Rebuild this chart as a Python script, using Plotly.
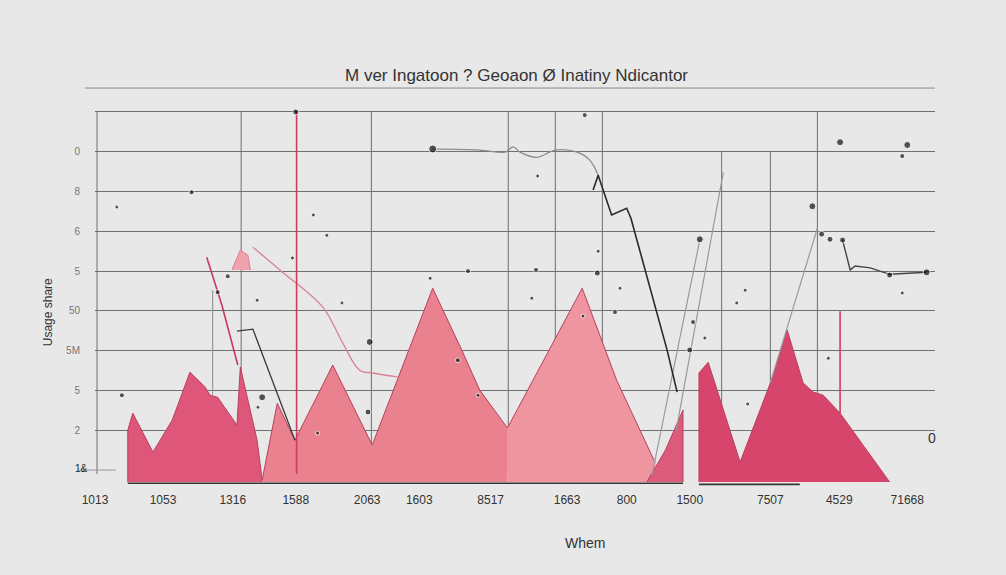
import plotly.graph_objects as go

# ---------------- data ----------------
title_text = "M ver Ingatoon ? Geoaon Ø Inatiny Ndicantor"
x_title = "Whem"
y_title = "Usage share"

x_tick_vals = [0, 8.1, 16.4, 23.9, 32.4, 38.6, 47.1, 56.2, 63.3, 70.8, 80.4, 88.6, 96.7]
x_tick_text = ["1013", "1053", "1316", "1588", "2063", "1603", "8517",
               "1663", "800", "1500", "7507", "4529", "71668"]

y_tick_vals = [1, 2, 3, 4, 5, 6, 7, 8, 9]
y_tick_text = ["2", "5", "5M", "50", "5", "6", "8", "0", ""]

# filled areas (closed polygons)
area1_x = [3.9, 3.9, 4.5, 6.9, 9.2, 11.3, 13.1, 13.7, 14.6, 16.9, 17.3, 19.3, 19.9, 19.9]
area1_y = [-0.3, 1.0, 1.43, 0.45, 1.26, 2.46, 2.09, 1.88, 1.83, 1.13, 2.59, 0.75, -0.25, -0.3]

area2a_x = [19.9, 19.9, 21.7, 23.8, 28.3, 33.0, 40.2, 43.5, 45.8, 49.1, 49.1]
area2a_y = [-0.3, -0.25, 1.68, 0.75, 2.64, 0.63, 4.57, 3.09, 2.01, 1.06, -0.3]

area2b_x = [49.1, 49.1, 58.0, 62.1, 66.7, 66.9]
area2b_y = [-0.3, 1.06, 4.57, 2.26, 0.18, -0.3]

area3_x = [65.7, 67.9, 70.0, 70.0]
area3_y = [-0.3, 0.5, 1.51, -0.3]

area4_x = [71.9, 71.9, 73.0, 76.8, 80.4, 82.4, 84.3, 85.5, 86.7, 88.7, 94.6]
area4_y = [-0.3, 2.44, 2.71, 0.2, 2.19, 3.52, 2.19, 1.96, 1.88, 1.43, -0.3]

area5_x = [16.3, 17.3, 18.2, 18.5]
area5_y = [5.03, 5.53, 5.4, 5.03]

# lines
black_line_x = [59.3, 59.9, 61.5, 63.3, 63.8, 68.1, 69.3]
black_line_y = [7.04, 7.41, 6.41, 6.58, 6.33, 3.02, 1.96]

grey_curve_x = [40.2, 45.8, 48.8, 49.8, 50.6, 52.6, 54.8, 57.4, 58.9, 59.9]
grey_curve_y = [8.07, 8.04, 7.99, 8.12, 7.99, 7.86, 8.04, 7.99, 7.79, 7.41]

right_line_x = [89.0, 89.9, 90.5, 92.3, 94.6, 99.0]
right_line_y = [5.78, 5.03, 5.13, 5.08, 4.92, 4.97]

pink_curve_x = [18.8, 22.0, 27.1, 29.5, 31.5, 33.1, 36.0]
pink_curve_y = [5.60, 5.03, 4.10, 3.19, 2.51, 2.44, 2.34]

crimson_x = [13.3, 15.1, 17.0]
crimson_y = [5.35, 4.15, 2.64]

dark_left_x = [16.9, 18.8, 23.8]
dark_left_y = [3.49, 3.54, 0.75]

grey_rise_x = [66.3, 72.0, None, 69.2, 74.8, None, 80.4, 86.0, None, 14.0, 14.0]
grey_rise_y = [-0.13, 5.78, None, 1.01, 7.49, None, 2.19, 6.08, None, 4.52, 1.88]

red_vert_x = [24.0, 24.0, None, 88.7, 88.7]
red_vert_y = [9.0, -0.1, None, 3.99, 1.43]

base_x = [3.9, 70.0, None, 71.9, 83.9]
base_y = [-0.33, -0.33, None, -0.36, -0.36]

dots_x = [88.7, 96.7, 96.1, 85.4, 72.0, 59.8, 52.5, 58.3, 52.7, 77.4, 62.5, 59.9,
          40.2, 11.5, 2.6, 26.0, 27.6, 3.2, 15.8, 14.6, 19.9, 19.4, 32.5, 32.7,
          26.5, 23.5, 19.3, 29.4, 44.4, 52.0, 43.2, 45.6, 61.9, 58.1, 39.9, 71.2,
          70.8, 72.6, 76.4, 77.7, 87.3, 96.1, 86.5, 87.5, 89.0, 94.6, 99.0, 23.9]
dots_y = [8.24, 8.17, 7.89, 6.63, 5.80, 4.95, 5.03, 8.92, 7.39, 4.52, 4.57, 5.50,
          8.07, 6.98, 6.61, 6.41, 5.90, 1.88, 4.87, 4.47, 1.83, 1.58, 1.46, 3.22,
          0.93, 5.33, 4.27, 4.20, 5.00, 4.32, 2.76, 1.88, 3.97, 3.87, 4.82, 3.72,
          3.02, 3.32, 4.20, 1.66, 2.81, 4.45, 5.93, 5.80, 5.78, 4.90, 4.97, 9.0]
dots_s = [7, 7, 5, 7, 7, 6, 5, 5, 4, 4, 4, 4,
          8, 5, 4, 4, 4, 5, 5, 5, 7, 4, 6, 7,
          4, 4, 4, 4, 5, 4, 5, 4, 5, 4, 4, 5,
          6, 4, 4, 4, 4, 4, 6, 6, 6, 6, 7, 6]

vgrid_full = [0.24, 17.4, 32.9, 49.2, 54.8, 60.4, 86.0]
vgrid_part = [74.6, 80.4]

# ---------------- figure ----------------
fig = go.Figure()

edge = dict(color="#b8405c", width=1)
nol = dict(width=0)
fig.add_trace(go.Scatter(x=area1_x, y=area1_y, fill="toself", fillcolor="#de5679",
                         line=edge, mode="lines", hoverinfo="skip"))
fig.add_trace(go.Scatter(x=area2a_x, y=area2a_y, fill="toself", fillcolor="#e9818f",
                         line=nol, mode="lines", hoverinfo="skip"))
fig.add_trace(go.Scatter(x=area2b_x, y=area2b_y, fill="toself", fillcolor="#ef95a0",
                         line=nol, mode="lines", hoverinfo="skip"))
# outline of the middle area
fig.add_trace(go.Scatter(x=area2a_x[1:-1] + area2b_x[2:-1], y=area2a_y[1:-1] + area2b_y[2:-1],
                         mode="lines", line=edge, hoverinfo="skip"))
fig.add_trace(go.Scatter(x=area3_x, y=area3_y, fill="toself", fillcolor="#dc5a7a",
                         line=edge, mode="lines", hoverinfo="skip"))
fig.add_trace(go.Scatter(x=area4_x, y=area4_y, fill="toself", fillcolor="#d8456c",
                         line=edge, mode="lines", hoverinfo="skip"))
fig.add_trace(go.Scatter(x=area5_x, y=area5_y, fill="toself", fillcolor="#f0a2ad",
                         line=dict(color="#e07a8e", width=1), mode="lines", hoverinfo="skip"))

fig.add_trace(go.Scatter(x=grey_rise_x, y=grey_rise_y, mode="lines",
                         line=dict(color="#9a9a9a", width=1.2)))
fig.add_trace(go.Scatter(x=grey_curve_x, y=grey_curve_y, mode="lines",
                         line=dict(color="#8c8c8c", width=1.3, shape="spline")))
fig.add_trace(go.Scatter(x=pink_curve_x, y=pink_curve_y, mode="lines",
                         line=dict(color="#d98193", width=1.3, shape="spline")))
fig.add_trace(go.Scatter(x=crimson_x, y=crimson_y, mode="lines",
                         line=dict(color="#c93a5b", width=1.6)))
fig.add_trace(go.Scatter(x=red_vert_x, y=red_vert_y, mode="lines",
                         line=dict(color="#cf3d5e", width=1.6)))
fig.add_trace(go.Scatter(x=black_line_x, y=black_line_y, mode="lines",
                         line=dict(color="#2a2a2a", width=1.6)))
fig.add_trace(go.Scatter(x=dark_left_x, y=dark_left_y, mode="lines",
                         line=dict(color="#3a3a3a", width=1.3)))
fig.add_trace(go.Scatter(x=right_line_x, y=right_line_y, mode="lines",
                         line=dict(color="#444444", width=1.4)))
fig.add_trace(go.Scatter(x=base_x, y=base_y, mode="lines",
                         line=dict(color="#333333", width=1.6)))
fig.add_trace(go.Scatter(x=dots_x, y=dots_y, mode="markers",
                         marker=dict(color="#111111", size=dots_s)))

shapes = []
for v in vgrid_full:
    shapes.append(dict(type="line", xref="x", yref="y", x0=v, x1=v, y0=-0.1, y1=9,
                       line=dict(color="#6e6e6e", width=1), layer="below"))
for v in vgrid_part:
    shapes.append(dict(type="line", xref="x", yref="y", x0=v, x1=v, y0=-0.1, y1=8,
                       line=dict(color="#6e6e6e", width=1), layer="below"))
# rule under the title
shapes.append(dict(type="line", xref="paper", yref="paper", x0=-0.012, x1=1.0,
                   y0=1.031, y1=1.031, line=dict(color="#8a8a8a", width=1)))
# short tick at y=0
shapes.append(dict(type="line", xref="paper", yref="y", x0=-0.02, x1=0.025,
                   y0=0, y1=0, line=dict(color="#9a9a9a", width=1)))

annotations = [
    dict(text=title_text, xref="paper", yref="paper", x=0.502, y=1.063, yanchor="middle",
         showarrow=False, font=dict(family="Liberation Sans, Arial", size=17, color="#333333")),
    dict(text=x_title, xref="paper", yref="paper", x=0.583, y=-0.148, yanchor="middle",
         showarrow=False, font=dict(family="Liberation Sans Narrow, Liberation Sans", size=14, color="#333333")),
    dict(text=y_title, xref="paper", yref="paper", x=-0.056, y=0.45, textangle=-90,
         yanchor="middle", xanchor="center",
         showarrow=False, font=dict(family="Liberation Sans, Arial", size=12, color="#333333")),
    dict(text="1&", xref="paper", yref="y", x=-0.026, y=0.05, yanchor="middle",
         showarrow=False, font=dict(family="Liberation Sans, Arial", size=10, color="#222222")),
    dict(text="0", xref="x", yref="y", x=99.6, y=0.8, yanchor="middle",
         showarrow=False, font=dict(family="Liberation Sans, Arial", size=14, color="#333333")),
]

fig.update_layout(
    width=1006, height=575,
    paper_bgcolor="#e8e8e8", plot_bgcolor="#e8e8e8",
    margin=dict(l=95, r=71, t=100, b=89),
    showlegend=False,
    shapes=shapes,
    annotations=annotations,
    xaxis=dict(range=[0, 100], tickvals=x_tick_vals, ticktext=x_tick_text,
               showgrid=False, zeroline=False, showline=False, ticks="",
               ticklabelstandoff=5,
               tickfont=dict(family="Liberation Sans Narrow, Liberation Sans", size=12, color="#333333")),
    yaxis=dict(range=[-0.4, 9.3], tickvals=y_tick_vals, ticktext=y_tick_text,
               showgrid=True, gridcolor="#707070", gridwidth=1, zeroline=False,
               showline=False, ticks="", ticklabelstandoff=14,
               tickfont=dict(family="Liberation Sans, Arial", size=10, color="#777777")),
)

fig.write_html(
    "out.html",
    config={"displayModeBar": False},
    post_script="document.body.style.margin='0';document.body.style.background='#e8e8e8';",
)
